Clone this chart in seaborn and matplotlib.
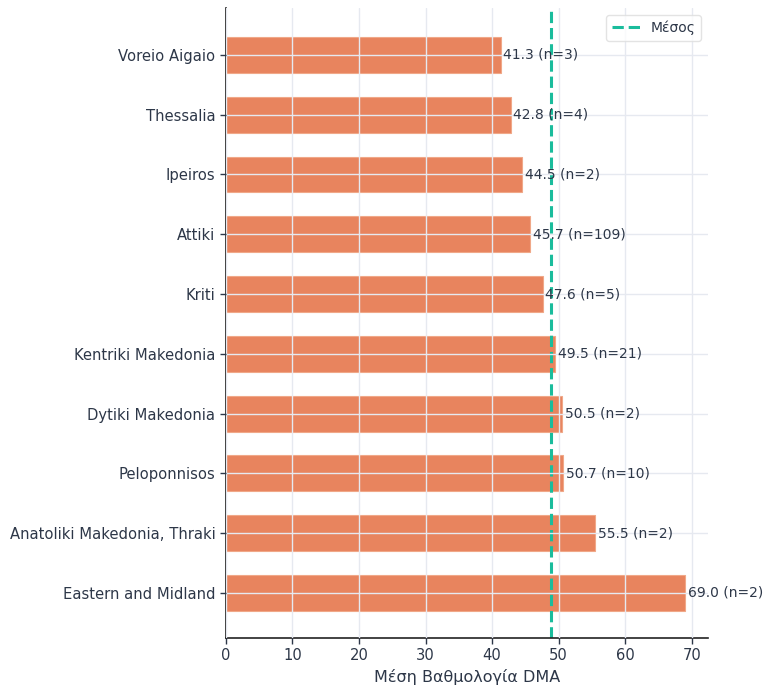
import pandas as pd
import matplotlib
matplotlib.use("Agg")
import matplotlib.pyplot as plt
import seaborn as sns

# Data
regions = ["Voreio Aigaio", "Thessalia", "Ipeiros", "Attiki", "Kriti",
           "Kentriki Makedonia", "Dytiki Makedonia", "Peloponnisos",
           "Anatoliki Makedonia, Thraki", "Eastern and Midland"]
scores = [41.3, 42.8, 44.5, 45.7, 47.6, 49.5, 50.5, 50.7, 55.5, 69.0]
counts = [3, 4, 2, 109, 5, 21, 2, 10, 2, 2]
mean_score = 48.8

df = pd.DataFrame({"region": regions, "score": scores, "n": counts})

sns.set_theme(style="whitegrid")
text_col = "#2d3748"
plt.rcParams["font.family"] = ["DejaVu Sans"]
plt.rcParams["text.color"] = text_col
plt.rcParams["axes.labelcolor"] = text_col
plt.rcParams["xtick.color"] = text_col
plt.rcParams["ytick.color"] = text_col

fig, ax = plt.subplots(figsize=(7.63, 6.91), dpi=100)

sns.barplot(data=df, y="region", x="score", order=regions, color="#e8845e",
            saturation=1, width=0.6, edgecolor="#f0a888", linewidth=0.8, ax=ax)

# value labels
for i, (s, n) in enumerate(zip(scores, counts)):
    ax.text(s + 0.4, i, f"{s:.1f} (n={n})", va="center", ha="left",
            fontsize=10, color=text_col)

ax.axvline(mean_score, color="#1abc9c", linestyle="--", linewidth=2.2, label="Μέσος")
ax.legend(loc="upper right", fontsize=10, frameon=True, edgecolor="#dddddd")

ax.set_ylim(9.75, -0.78)
ax.set_xlim(0, 72.45)
ax.set_ylabel("")
ax.set_xlabel("Μέση Βαθμολογία DMA", fontsize=11.5)
ax.tick_params(axis="both", labelsize=10.6, length=4, width=1, colors=text_col,
               left=True, bottom=True)
ax.set_xticks([0, 10, 20, 30, 40, 50, 60, 70])

ax.set_facecolor("white")
ax.grid(True, color="#e6e9f0", linewidth=1)
ax.set_axisbelow(False)
for side in ["top", "right"]:
    ax.spines[side].set_visible(False)
for side in ["left", "bottom"]:
    ax.spines[side].set_color("#222222")
    ax.spines[side].set_linewidth(1.2)

fig.subplots_adjust(left=0.296, right=0.928, top=0.988, bottom=0.077)
fig.savefig("out.png", dpi=100, facecolor="white")
